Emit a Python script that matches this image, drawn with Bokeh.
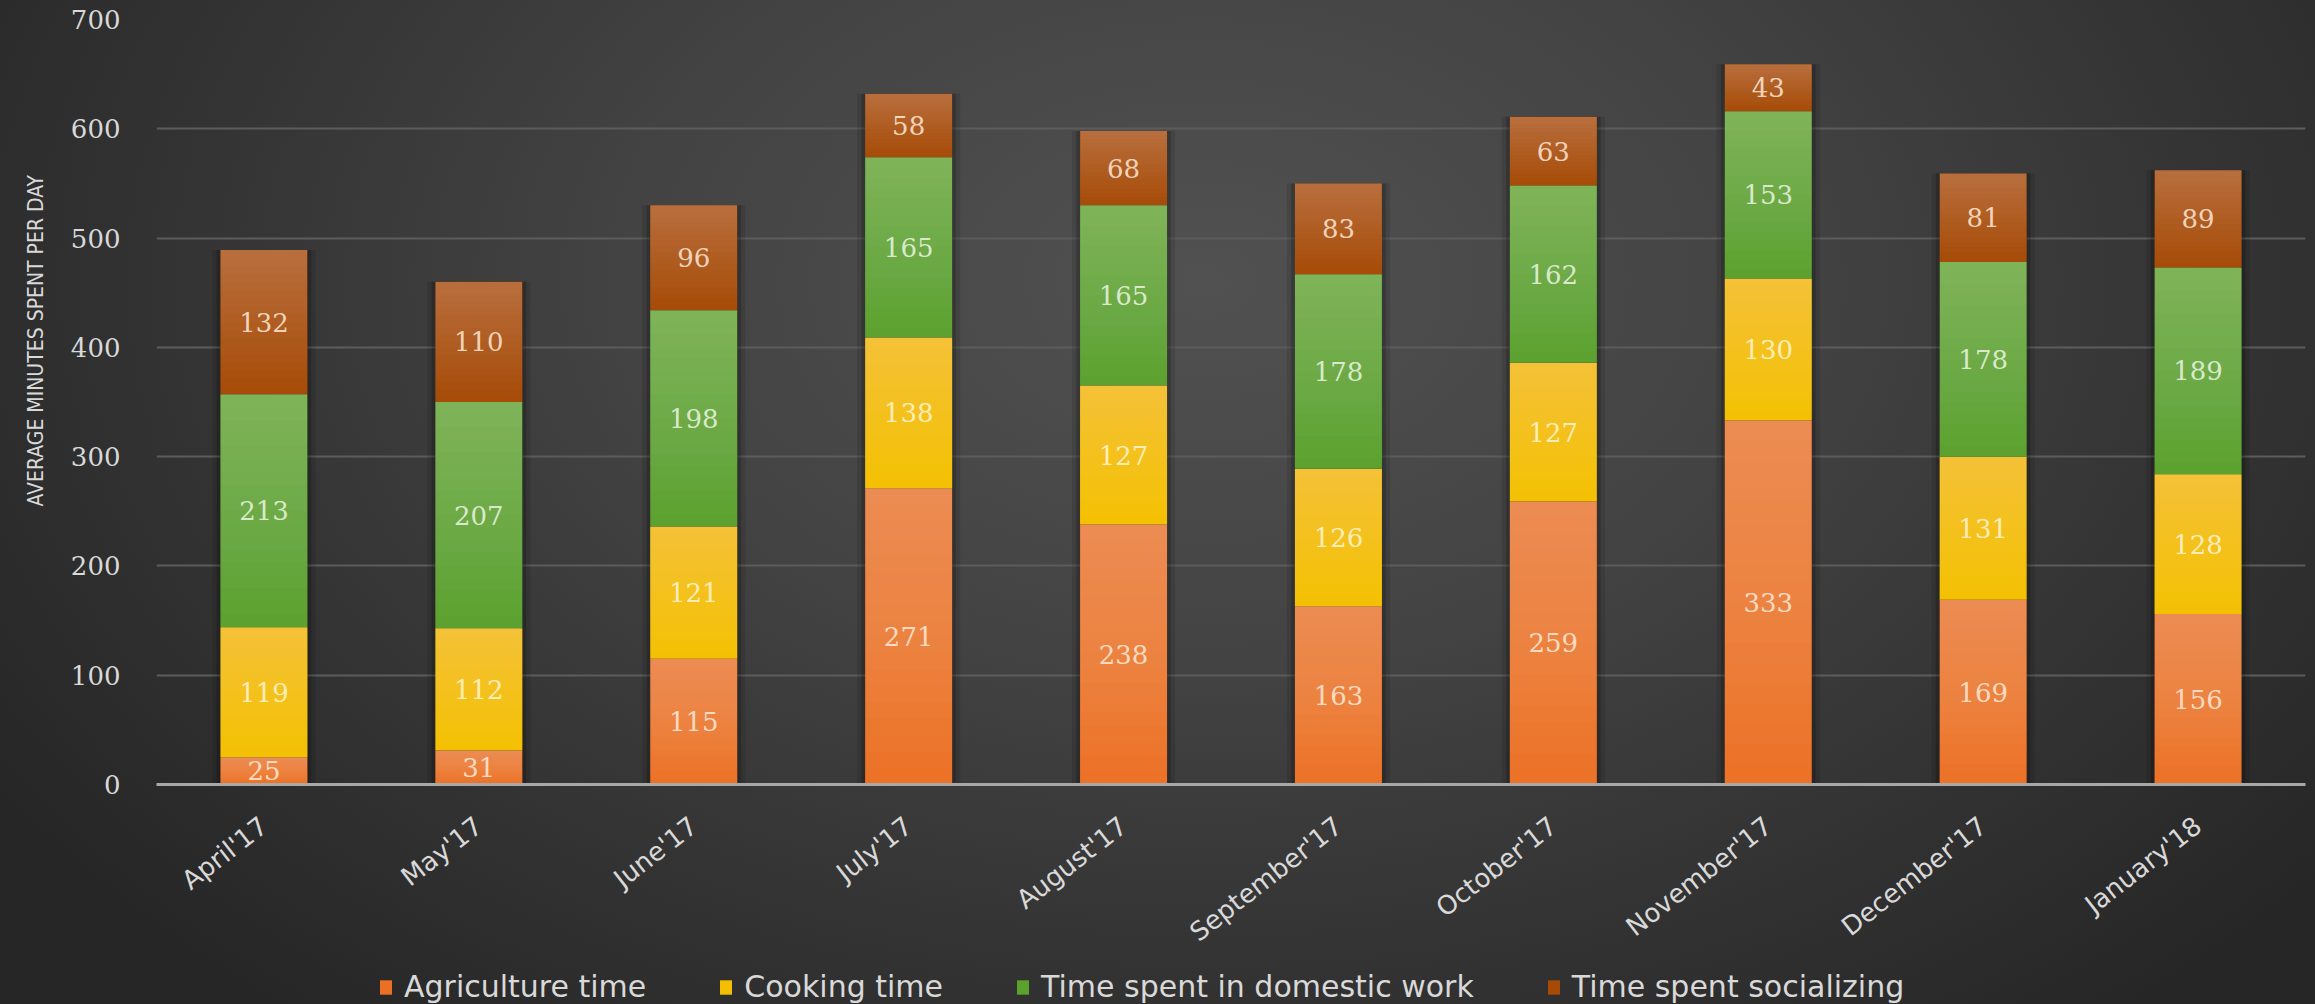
from bokeh.core.properties import value
from bokeh.embed import file_html
from bokeh.layouts import column
from bokeh.models import (ColumnDataSource, FactorRange, InlineStyleSheet,
                          Legend, LegendItem, Range1d, Title)
from bokeh.plotting import figure
from bokeh.resources import INLINE

# ---- data -------------------------------------------------------------
months = ["April'17", "May'17", "June'17", "July'17", "August'17",
          "September'17", "October'17", "November'17", "December'17", "January'18"]

agriculture = [25, 31, 115, 271, 238, 163, 259, 333, 169, 156]
cooking = [119, 112, 121, 138, 127, 126, 127, 130, 131, 128]
domestic = [213, 207, 198, 165, 165, 178, 162, 153, 178, 189]
socializing = [132, 110, 96, 58, 68, 83, 63, 43, 81, 89]

series_names = ["Agriculture time", "Cooking time",
                "Time spent in domestic work", "Time spent socializing"]
y_ticks = [0, 100, 200, 300, 400, 500, 600, 700]

# ---- styling ----------------------------------------------------------
keys = ["agri", "cook", "dom", "soc"]
colors = ["#ec7024", "#f4bf00", "#5ba12d", "#a64a06"]
label_colors = ["#fde4cf", "#fff3c8", "#e3f1d9", "#f8e0cb"]
BAR_W = 0.405
TEXT = "#d9d9d9"
W, H = 2315, 1004
LEGEND_H = 36
TOP, FRAME_H = 19, 765

source = ColumnDataSource(dict(month=months, agri=agriculture, cook=cooking,
                               dom=domestic, soc=socializing))

p = figure(x_range=FactorRange(*months), y_range=Range1d(0, 700),
           width=W, height=H - LEGEND_H, output_backend="svg", toolbar_location=None,
           min_border_left=156, min_border_right=10, min_border_top=TOP,
           min_border_bottom=H - LEGEND_H - TOP - FRAME_H,
           background_fill_alpha=0, border_fill_alpha=0, outline_line_color=None)

# soft shadow around each column
totals = [a + b + c + d for a, b, c, d in zip(agriculture, cooking, domestic, socializing)]
p.vbar(x=months, top=totals, bottom=0, width=BAR_W + 0.075, fill_color="black",
       fill_alpha=0.10, line_color=None)
p.vbar(x=months, top=totals, bottom=0, width=BAR_W + 0.035, fill_color="black",
       fill_alpha=0.18, line_color=None)

# stacked segments
p.vbar_stack(keys, x="month", width=BAR_W, color=colors, line_color=None, source=source)

# vertical light sheen on each segment (lighter toward the top)
K = 18
per_band = 1 - (1 - 0.24) ** (1.0 / K)
gx, gb, gt = [], [], []
series = [agriculture, cooking, domestic, socializing]
base = [0] * len(months)
for vals in series:
    for i, m in enumerate(months):
        lo, v = base[i], vals[i]
        for j in range(K):
            gx.append(m)
            gb.append(lo + v * j / K)
            gt.append(lo + v)
    base = [b + v for b, v in zip(base, vals)]
p.vbar(x=gx, bottom=gb, top=gt, width=BAR_W, fill_color="white",
       fill_alpha=per_band, line_color=None)

# value labels centred in each segment
base = [0] * len(months)
for vals, lc in zip(series, label_colors):
    mids = [b + v / 2 for b, v in zip(base, vals)]
    p.text(x=months, y=mids, text=[str(v) for v in vals],
           text_align="center", text_baseline="middle",
           text_font=value("DejaVu Serif"), text_font_size="26px",
           text_color=lc, text_alpha=0.92)
    base = [b + v for b, v in zip(base, vals)]

# axes and grid
p.yaxis.ticker = y_ticks
p.yaxis.axis_line_color = None
p.yaxis.major_tick_line_color = None
p.yaxis.minor_tick_line_color = None
p.yaxis.major_tick_out = 0
p.yaxis.major_tick_in = 0
p.yaxis.major_label_standoff = 36
p.yaxis.major_label_text_font = "DejaVu Serif"
p.yaxis.major_label_text_font_size = "26px"
p.yaxis.major_label_text_color = TEXT

p.xaxis.axis_line_color = "#a8a8a8"
p.xaxis.axis_line_width = 3
p.xaxis.major_tick_line_color = None
p.xaxis.minor_tick_line_color = None
p.xaxis.major_tick_out = 0
p.xaxis.major_tick_in = 0
p.xaxis.major_label_orientation = 0.66
p.xaxis.major_label_standoff = 38
p.xaxis.major_label_text_font = "DejaVu Sans"
p.xaxis.major_label_text_font_size = "26px"
p.xaxis.major_label_text_color = TEXT

p.xgrid.grid_line_color = None
p.ygrid.grid_line_color = "#5c5c5c"
p.ygrid.grid_line_width = 2

p.add_layout(Title(text="AVERAGE MINUTES SPENT PER DAY", align="left", offset=278,
                   standoff=40,
                   text_font="DejaVu Sans Condensed, Liberation Sans",
                   text_font_size="21px", text_font_style="normal",
                   text_color=TEXT), "left")

# legend strip underneath the chart; its swatch renderers are hidden
lp = figure(x_range=FactorRange(*months), y_range=Range1d(0, 700),
            width=W, height=LEGEND_H, output_backend="svg", toolbar_location=None,
            x_axis_location=None, y_axis_location=None, min_border=0,
            background_fill_alpha=0, border_fill_alpha=0, outline_line_color=None)
lp.grid.visible = False
swatches = lp.vbar_stack(keys, x="month", width=BAR_W, color=colors,
                         line_color=None, source=source)
for r in swatches:
    r.visible = False
legend = Legend(items=[LegendItem(label=n, renderers=[r])
                       for n, r in zip(series_names, swatches)],
                orientation="horizontal", location=(222, 0),
                label_text_font="DejaVu Sans", label_text_font_size="30px",
                label_text_color=TEXT, glyph_width=15, glyph_height=18,
                label_standoff=11, spacing=72, background_fill_alpha=0,
                inactive_fill_alpha=0, border_line_color=None, padding=0, margin=0)
lp.add_layout(legend)

page = column(p, lp, spacing=0)
# dark radial backdrop behind the whole chart
page.stylesheets = [InlineStyleSheet(css=""":host {
  background: radial-gradient(ellipse 62% 95% at 52% 28%,
              #515151 0%, #434343 40%, #343434 70%, #262626 100%);
}""")]

open("out.html", "w").write(file_html(page, INLINE))
